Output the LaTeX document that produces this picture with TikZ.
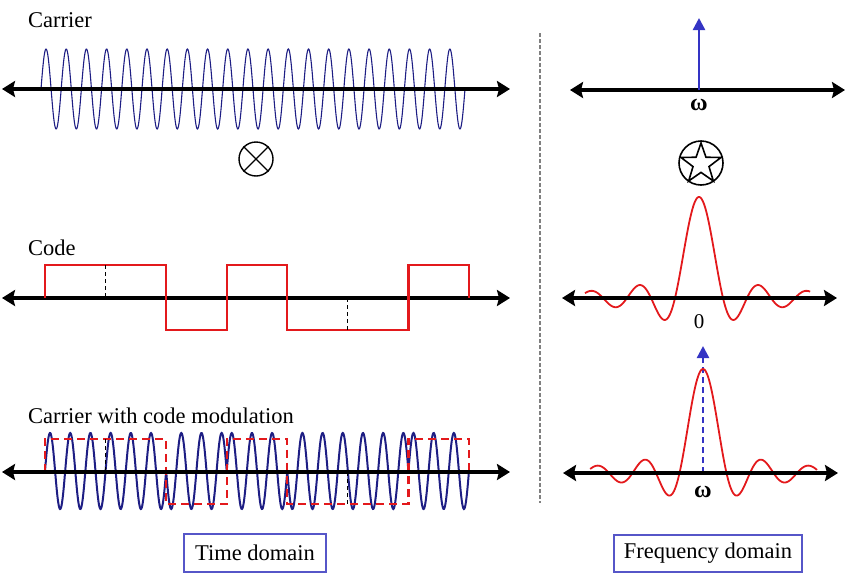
\documentclass[tikz,border=0pt]{standalone}
\usepackage{fontspec}
\setmainfont{Liberation Serif}
\usetikzlibrary{arrows.meta,shapes.geometric}
\definecolor{navy}{HTML}{1E1E84}
\definecolor{codered}{HTML}{E3191C}
\definecolor{arrblue}{HTML}{3434C4}
\definecolor{boxblue}{HTML}{5656C8}
\tikzset{
  axis/.style={line width=3.6pt, black, {Stealth[length=13pt,width=16pt,inset=2pt]}-{Stealth[length=13pt,width=16pt,inset=2pt]}},
  carrierwave/.style={navy, line width=1.1pt},
  modwave/.style={navy, line width=2pt},
  codeline/.style={codered, line width=2.2pt},
  codedash/.style={codered, line width=2.2pt, dash pattern=on 8pt off 5pt},
  chipmark/.style={black, line width=1.1pt, dash pattern=on 4pt off 3pt},
  sincline/.style={codered, line width=1.8pt},
  label/.style={font=\fontsize{22.5}{26}\selectfont, inner sep=0pt, anchor=base west},
  domainbox/.style={draw=boxblue, line width=1.5pt, font=\fontsize{22.5}{26}\selectfont, inner sep=0pt},
  sep/.style={gray, line width=1.3pt, dash pattern=on 4pt off 2pt},
  spike/.style={arrblue, line width=2.4pt, -{Triangle[length=12pt,width=12pt]}},
  omega/.style={font=\fontsize{24}{26}\selectfont\bfseries, inner sep=0pt},
}
\begin{document}
\begin{tikzpicture}[x=1pt,y=-1pt]
\useasboundingbox (0,0) rectangle (850,573);

% ---------- Time domain ----------
% Carrier
\node[label] (lcarrier) at (28,27) {Carrier};
\coordinate (a1l) at (2,89); \coordinate (a1r) at (510,89);
\draw[carrierwave] plot[domain=41:465, samples=800, smooth] (\x, {89 - 40*sin((\x-41)/20.19*360)});
\draw[axis] (a1l) -- (a1r);

% multiply symbol
\node[circle, draw, line width=1.4pt, minimum size=34pt, inner sep=0pt] (times) at (256,159) {};
\draw[line width=1.4pt] (times.45) -- (times.225) (times.135) -- (times.315);

% Code
\node[label] (lcode) at (28,255.5) {Code};
\coordinate (a2l) at (2,298); \coordinate (a2r) at (510,298);
\draw[axis] (a2l) -- (a2r);
\draw[codeline] (45,298) -- (45,265) -- (166.1,265) -- (166.1,330) -- (226.7,330) -- (226.7,265)
  -- (287.3,265) -- (287.3,330) -- (408.4,330) -- (408.4,265) -- (469,265) -- (469,298);
\draw[chipmark] (105.6,265) -- (105.6,298);
\draw[chipmark] (347.9,298) -- (347.9,330);

% Carrier with code modulation
\node[label] (lmod) at (28,423) {Carrier with code modulation};
\coordinate (a3l) at (2,472); \coordinate (a3r) at (510,472);
\draw[modwave] plot[domain=45:166.1, samples=250, smooth] (\x, {471 - 38*sin((\x-45)/20.19*360)})
  -- plot[domain=166.1:226.7, samples=120, smooth] (\x, {471 + 38*sin((\x-45)/20.19*360)})
  -- plot[domain=226.7:287.3, samples=120, smooth] (\x, {471 - 38*sin((\x-45)/20.19*360)})
  -- plot[domain=287.3:408.4, samples=250, smooth] (\x, {471 + 38*sin((\x-45)/20.19*360)})
  -- plot[domain=408.4:469, samples=120, smooth] (\x, {471 - 38*sin((\x-45)/20.19*360)});
\draw[codedash] (45,472) -- (45,439) -- (166.1,439) -- (166.1,504) -- (226.7,504) -- (226.7,439)
  -- (287.3,439) -- (287.3,504) -- (408.4,504) -- (408.4,439) -- (469,439) -- (469,472);
\draw[chipmark] (105.6,439) -- (105.6,472);
\draw[chipmark] (347.9,472) -- (347.9,504);
\draw[axis] (a3l) -- (a3r);

\node[domainbox, minimum width=142pt, minimum height=38pt] (tdom) at (255,553) {Time domain};

% separator
\coordinate (st) at (540,33); \coordinate (sb) at (540,503);
\draw[sep] (st) -- (sb);

% ---------- Frequency domain ----------
\coordinate (f1l) at (570,90); \coordinate (f1r) at (845,90);
\coordinate (f1c) at (699,90); \coordinate (f1t) at (699,18);
\draw[axis] (f1l) -- (f1r);
\draw[spike] (f1c) -- (f1t);
\node[omega] (om1) at (699,105) {ω};

% convolution star
\node[circle, draw, line width=1.6pt, minimum size=44pt, inner sep=0pt] (conv) at (701,163) {};
\node[star, star points=5, star point ratio=2.5, draw, line width=1.6pt, minimum size=42pt, inner sep=0pt] (starsym) at (701,164) {};

% sinc at 0
\coordinate (f2l) at (562,298); \coordinate (f2r) at (837,298);
\draw[sincline] plot[domain=-4.75:4.63, samples=301, smooth] ({699 + 24*\x}, {298 - 101*sin(180*(\x+0.00001))/(pi*(\x+0.00001))});
\draw[axis] (f2l) -- (f2r);
\node[font=\fontsize{21}{24}\selectfont, inner sep=0pt] (zero) at (699,322) {0};

% sinc at omega
\coordinate (f3l) at (563,473); \coordinate (f3r) at (838,473);
\coordinate (f3c) at (703,473); \coordinate (f3t) at (703,346);
\draw[spike, dash pattern=on 6pt off 4pt] (f3c) -- (f3t);
\draw[sincline] plot[domain=-4.8:4.85, samples=301, smooth] ({703 + 23.5*\x}, {473 - 104*sin(180*(\x+0.00001))/(pi*(\x+0.00001))});
\draw[axis] (f3l) -- (f3r);
\node[omega] (om2) at (703,492) {ω};

\node[domainbox, minimum width=188pt, minimum height=37pt] (fdom) at (708,553.5) {Frequency domain};
\end{tikzpicture}
\end{document}
